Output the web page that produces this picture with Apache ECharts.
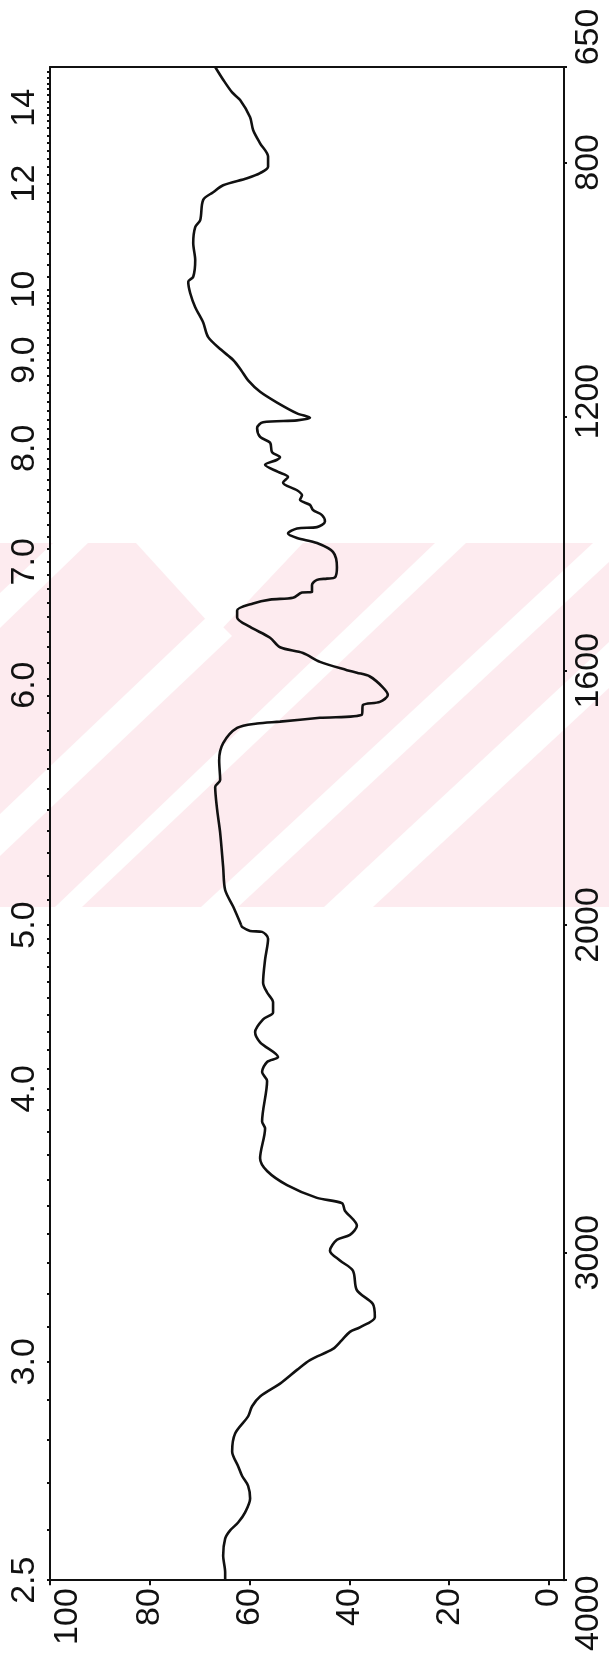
<!DOCTYPE html>
<html><head><meta charset="utf-8">
<script src="https://cdn.jsdelivr.net/npm/echarts@6/dist/echarts.min.js"></script>
<style>html,body{margin:0;padding:0;background:#fff;}#c{width:609px;height:1654px;}</style>
</head><body><div id="c"></div>
<script>
// IR spectrum: wavenumber (cm-1) and % transmittance, from 4000 to 650
const wavenumber = [
  4000,3976,3925,3873,3848,3824,3793,3751,3712,3682,
  3652,3607,3552,3500,3469,3439,3400,3358,3328,3294,
  3267,3242,3228,3197,3157,3115,3055,3024,2994,2961,
  2946,2918,2872,2849,2833,2794,2751,2712,2621,2600,
  2476,2449,2418,2403,2358,2327,2288,2267,2236,2206,
  2176,2106,2042,2021,2018,2006,2000,
  1971,1945,1909,1855,1819,1783,1772,1741,1714,1690,
  1683,1680,1674,1669,1654,1649,1638,1626,1609,1603,
  1599,1586,1572,1563,1548,1531,1516,1505,1494,1488,
  1485,1477,1476,1465,1457,1455,1453,1437,1413,1399,
  1391,1384,1376,1374,1365,1355,1347,1339,1331,1324,
  1316,1304,1295,1287,1276,1268,1264,1256,1241,1232,
  1218,1209,1206,1202,1195,1178,1161,1143,1127,1111,
  1095,1075,1052,1028,1006,988,980,954,927,902,
  891,859,847,836,825,817,807,791,770,749,
  729,702,690,670,650];
const transmittance = [
  64.9,64.9,65.3,64.9,63.9,62.3,60.9,59.9,60.3,61.5,
  62.3,63.5,62.9,60.3,59.5,57.9,53.9,50.5,47.9,43.3,
  41.5,39.9,37.9,34.9,35.3,38.5,39.3,41.9,43.9,42.5,
  39.9,38.5,40.9,41.5,46.5,52.5,56.5,57.9,56.9,57.5,
  56.5,57.5,56.5,54.3,57.9,58.9,57.3,55.3,55.3,56.5,
  57.3,56.9,56.3,57.5,59.9,61.5,61.7,
  63.3,64.9,65.3,65.9,66.5,66.9,65.9,66.1,65.3,62.5,
  58.5,53.9,45.9,37.5,37.3,33.9,32.3,33.3,35.9,38.5,
  40.5,45.9,49.3,53.9,55.9,59.9,62.5,62.5,59.3,55.9,
  51.3,49.5,47.5,47.5,46.5,44.5,42.9,42.5,43.3,46.5,
  50.5,52.3,50.5,46.5,44.9,45.5,47.3,47.9,49.9,49.5,
  50.5,53.3,52.3,54.3,56.9,54.5,53.9,55.5,55.9,57.9,
  58.5,57.3,50.5,47.9,50.5,54.5,57.9,60.3,61.7,63.3,
  65.7,68.3,69.3,70.9,71.9,72.3,71.3,70.9,71.3,70.9,
  69.9,69.3,67.3,65.3,60.5,57.9,56.3,56.3,57.9,59.3,
  59.9,61.9,63.5,65.3,66.9];
const transmittanceTicks = [0,20,40,60,80,100];
const wavenumberLabelsLow = [4000,3000];
const wavenumberLabelsHigh = [2000,1600,1200,800,650];
const wavelengthLabelsLow = [2.5,3.0,4.0];
const wavelengthLabelsHigh = [5.0,6.0,7.0,8.0,9.0,10,12,14];
const wavelengthMinor = [2.5,2.6,2.7,2.8,2.9,3.0,3.1,3.2,3.3,3.4,3.5,3.6,3.7,3.8,3.9,4.0,4.1,4.2,4.3,4.4,4.5,4.6,4.7,4.8,4.9,5.0,5.1,5.2,5.3,5.4,5.5,5.6,5.7,5.8,5.9,6.0,6.1,6.2,6.3,6.4,6.5,6.6,6.7,6.8,6.9,7.0,7.1,7.2,7.3,7.4,7.5,7.6,7.7,7.8,7.9,8.0,8.1,8.2,8.3,8.4,8.5,8.6,8.7,8.8,8.9,9.0,9.1,9.2,9.3,9.4,9.5,9.6,9.7,9.8,9.9,10,10.2,10.4,10.6,10.8,11,11.2,11.4,11.6,11.8,12,12.2,12.4,12.6,12.8,13,13.2,13.4,13.6,13.8,14,14.2,14.4,14.6,14.8,15,15.2];

const toNu = l => 10000 / l;
const lowPts = [], highPts = [];
for (let i = 0; i < wavenumber.length; i++) {
  if (wavenumber[i] >= 2000) lowPts.push([transmittance[i], wavenumber[i]]);
  if (wavenumber[i] <= 2000) highPts.push([transmittance[i], wavenumber[i]]);
}
const FONT = "'Liberation Sans',Arial,sans-serif";
const FS = 34;
const INK = '#111';
const labelBase = {color: INK, fontFamily: FONT, fontSize: FS, rotate: 90};
const wlText = v => { const l = 10000 / v; return l >= 9.95 ? String(Math.round(l)) : (Math.round(l * 10) / 10).toFixed(1); };
const tok = pad => ({padding: pad, fontFamily: FONT, fontSize: FS, color: INK});
const rich = {
  up: tok([0, 0, 0, 60]),
  upm: tok([0, 0, 0, 56]),
  ups: tok([0, 0, 0, 30]),
  down: tok([0, 66, 0, 0]),
  rt: tok([36, 0, 0, 0]),
  n: tok([0, 0, 0, 0])
};
const axLine = {show: true, onZero: false, lineStyle: {color: INK, width: 2}};
const grids = [
  {left: 50, top: 67, width: 514, height: 858, show: false},
  {left: 50, top: 925, width: 514, height: 660, show: false}
];
const xAxes = [
  {gridIndex: 0, type: 'value', position: 'top', min: -3, max: 100, inverse: true,
   axisLine: axLine, axisTick: {show: false}, axisLabel: {show: false}, splitLine: {show: false}},
  {gridIndex: 1, type: 'value', position: 'bottom', min: -3, max: 100, inverse: true,
   axisLine: axLine, splitLine: {show: false},
   axisTick: {show: true, customValues: transmittanceTicks, length: 5, lineStyle: {color: INK, width: 2}},
   axisLabel: Object.assign({}, labelBase, {customValues: transmittanceTicks, margin: 8, rich: rich,
     formatter: v => v === 100 ? '{rt|100}' : '{n|' + v + '}'})}
];
function yAx(grid, pos, min, max, labelVals, tickVals, fmt) {
  return {gridIndex: grid, type: 'value', position: pos, min: min, max: max, inverse: true,
    axisLine: axLine, splitLine: {show: false},
    axisTick: {show: true, customValues: tickVals, length: 3, lineStyle: {color: INK, width: 2}},
    axisLabel: Object.assign({}, labelBase, {customValues: labelVals, margin: 8, rich: rich, formatter: fmt})};
}
const yAxes = [
  yAx(0, 'left', 650, 2000, wavelengthLabelsHigh.map(toNu),
      wavelengthMinor.map(toNu).filter(v => v <= 2000 && v >= 650),
      v => { const t = wlText(v); return (t === '6.0' ? '{upm|' : '{n|') + t + '}'; }),
  yAx(0, 'right', 650, 2000, wavenumberLabelsHigh, wavenumberLabelsHigh,
      v => v === 650 ? '{up|650}' : (v === 1200 ? '{ups|1200}' : '{n|' + v + '}')),
  yAx(1, 'left', 2000, 4000, wavelengthLabelsLow.map(toNu),
      wavelengthMinor.map(toNu).filter(v => v >= 2000 && v <= 4000), v => '{n|' + wlText(v) + '}'),
  yAx(1, 'right', 2000, 4000, wavenumberLabelsLow, wavenumberLabelsLow,
      v => v === 4000 ? '{down|4000}' : '{n|' + v + '}')
];
// faint pink watermark of the scanned page
const PINK = '#fdebef';
const wm = (pts, fill) => ({type: 'polygon', z: -20, silent: true, shape: {points: pts}, style: {fill: fill}});
const graphic = [
  {type: 'rect', z: -21, silent: true, shape: {x: 0, y: 543, width: 609, height: 364}, style: {fill: PINK}},
  wm([[136,543],[303,543],[218,633]], '#fff'),
  wm([[210,614],[232,636],[0,856],[0,814]], '#fff'),
  wm([[0,593],[53,543],[88,543],[0,628]], '#fff'),
  wm([[435,543],[466,543],[82,907],[55,907]], '#fff'),
  wm([[593,543],[609,543],[609,562],[238,907],[201,907]], '#fff'),
  wm([[609,642],[609,688],[373,907],[324,907]], '#fff')
];
const lineStyle = {color: INK, width: 2.6};
const option = {
  animation: false,
  backgroundColor: '#fff',
  graphic: graphic,
  grid: grids, xAxis: xAxes, yAxis: yAxes,
  series: [
    {type: 'line', xAxisIndex: 0, yAxisIndex: 0, data: highPts, showSymbol: false, smooth: 0.3, lineStyle: lineStyle, z: 5},
    {type: 'line', xAxisIndex: 1, yAxisIndex: 2, data: lowPts, showSymbol: false, smooth: 0.3, lineStyle: lineStyle, z: 5}
  ]
};
const chart = echarts.init(document.getElementById('c'));
chart.setOption(option);
</script></body></html>
